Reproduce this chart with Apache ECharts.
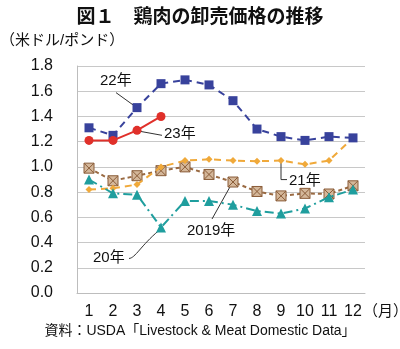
<!DOCTYPE html>
<html>
<head>
<meta charset="utf-8">
<script src="https://cdn.jsdelivr.net/npm/echarts@6/dist/echarts.min.js"></script>
<style>
  html, body { margin: 0; padding: 0; background: #fff; }
  #chart { width: 400px; height: 349px; }
</style>
</head>
<body>
<div id="chart"></div>
<script>
// Monthly wholesale chicken prices (US$/lb), USDA
const months = ['1','2','3','4','5','6','7','8','9','10','11','12'];
const yTicks = { min: 0, max: 1.8, interval: 0.2 };

const y2019 = [0.99, 0.89, 0.93, 0.97, 1.00, 0.94, 0.88, 0.805, 0.77, 0.79, 0.785, 0.85];
const y2020 = [0.90, 0.79, 0.78, 0.52, 0.73, 0.73, 0.70, 0.65, 0.63, 0.67, 0.76, 0.82];
const y2021 = [0.82, 0.83, 0.86, 1.00, 1.05, 1.06, 1.05, 1.045, 1.05, 1.02, 1.05, 1.23];
const y2022 = [1.31, 1.25, 1.47, 1.66, 1.69, 1.65, 1.525, 1.30, 1.24, 1.21, 1.24, 1.23];
const y2023 = [1.21, 1.21, 1.29, 1.40];

const JP = '"Liberation Sans", Arial, "Noto Sans CJK JP", sans-serif';
const boxX = 'path://M0,0 L10,0 L10,10 L0,10 Z M0,0 L10,10 M10,0 L0,10';

const chart = echarts.init(document.getElementById('chart'), null, { renderer: 'canvas' });

const option = {
  animation: false,
  backgroundColor: '#fff',
  textStyle: { fontFamily: JP },
  title: {
    text: '図１　鶏肉の卸売価格の推移',
    left: 'center', top: 3,
    textStyle: { fontFamily: JP, fontSize: 19, fontWeight: 'bold', color: '#111' }
  },
  grid: { left: 77, right: 35, top: 66, bottom: 56 },
  xAxis: {
    type: 'category',
    data: months,
    boundaryGap: true,
    axisLine: { show: true, lineStyle: { color: '#bdbdbd', width: 1 } },
    axisTick: { show: false },
    axisLabel: { color: '#111', fontSize: 16, margin: 11, fontFamily: JP, interval: 0 }
  },
  yAxis: {
    type: 'value',
    min: yTicks.min, max: yTicks.max, interval: yTicks.interval,
    axisLine: { show: true, lineStyle: { color: '#bdbdbd', width: 1 } },
    axisTick: { show: false },
    splitLine: { lineStyle: { color: '#c8c8c8', width: 1 } },
    axisLabel: { color: '#111', fontSize: 16, margin: 24, fontFamily: JP,
      formatter: v => v.toFixed(1) }
  },
  series: [
    {
      name: '2019年', type: 'line', data: y2019, z: 3,
      symbol: boxX, symbolSize: 10,
      lineStyle: { color: '#9a6a42', width: 2, type: [4, 3] },
      itemStyle: { color: '#d4b79a', borderColor: '#8a5c38', borderWidth: 1 }
    },
    {
      name: '21年', type: 'line', data: y2021, z: 4,
      symbol: 'diamond', symbolSize: 7,
      lineStyle: { color: '#f0a93a', width: 2, type: [7, 5] },
      itemStyle: { color: '#f0a93a' }
    },
    {
      name: '20年', type: 'line', data: y2020, z: 5,
      symbol: 'triangle', symbolSize: 10,
      lineStyle: { color: '#1f9e9e', width: 2, type: [9, 4, 2, 4] },
      itemStyle: { color: '#1f9e9e' }
    },
    {
      name: '22年', type: 'line', data: y2022, z: 6,
      symbol: 'rect', symbolSize: 9,
      lineStyle: { color: '#38429c', width: 2, type: [7, 5] },
      itemStyle: { color: '#38429c' }
    },
    {
      name: '23年', type: 'line', data: y2023, z: 7,
      symbol: 'circle', symbolSize: 9,
      lineStyle: { color: '#e0302a', width: 2, type: 'solid' },
      itemStyle: { color: '#e0302a' }
    }
  ]
};
chart.setOption(option);

// Series labels with leader lines, anchored to data points
function pt(mi, v) { return chart.convertToPixel({ gridIndex: 0 }, [mi, v]); }
const lbl = { fontFamily: JP, fontSize: 15, fill: '#111' };
const lead = { stroke: '#333', lineWidth: 1 };

const p22 = pt(2, y2022[2]);
const p23 = pt(2, y2023[2]);
const p21 = pt(8, y2021[8]);
const p19 = pt(6, y2019[6]);
const p20 = pt(3, y2020[3]);
const xAxisY = pt(0, 0)[1];
const xRight = chart.convertToPixel({ gridIndex: 0 }, [11, 0])[0];

chart.setOption({
  graphic: [
    // y-axis unit and month unit
    { type: 'text', left: 0, top: 33, style: { text: '（米ドル/ポンド）', font: '15px ' + JP, fill: '#111' } },
    { type: 'text', x: xRight + 10, y: xAxisY + 11, style: { text: '（月）', font: '15px ' + JP, fill: '#111' } },
    // source
    { type: 'text', left: 'center', top: 324, style: { text: '資料：USDA「Livestock & Meat Domestic Data」', font: '14px ' + JP, fill: '#111' } },

    // 22年
    { type: 'text', x: p22[0] - 37, y: p22[1] - 34, style: Object.assign({ text: '22年', font: '16px ' + JP }, lbl) },
    { type: 'line', shape: { x1: p22[0] - 21, y1: p22[1] - 15, x2: p22[0] - 3, y2: p22[1] - 2 }, style: lead },

    // 23年
    { type: 'text', x: p23[0] + 27, y: p23[1] - 4, style: Object.assign({ text: '23年', font: '16px ' + JP }, lbl) },
    { type: 'line', shape: { x1: p23[0] + 3, y1: p23[1] + 1, x2: p23[0] + 25, y2: p23[1] + 5 }, style: lead },

    // 21年
    { type: 'text', x: p21[0] + 8, y: p21[1] + 13, style: Object.assign({ text: '21年', font: '16px ' + JP }, lbl) },
    { type: 'polyline', shape: { points: [[p21[0], p21[1] + 2], [p21[0], p21[1] + 19], [p21[0] + 6, p21[1] + 19]] }, style: Object.assign({ fill: null }, lead) },

    // 2019年
    { type: 'text', x: p19[0] - 46, y: p19[1] + 41, style: Object.assign({ text: '2019年', font: '16px ' + JP }, lbl) },
    { type: 'line', shape: { x1: p19[0] - 2, y1: p19[1] + 3, x2: p19[0] - 21, y2: p19[1] + 37 }, style: lead },

    // 20年
    { type: 'text', x: p20[0] - 68, y: p20[1] + 23, style: Object.assign({ text: '20年', font: '16px ' + JP }, lbl) },
    { type: 'bezierCurve', shape: { x1: p20[0] - 32, y1: p20[1] + 31, cpx1: p20[0] - 26, cpy1: p20[1] + 31, cpx2: p20[0] - 20, cpy2: p20[1] + 18, x2: p20[0] - 2, y2: p20[1] + 3 }, style: Object.assign({ fill: null }, lead) }
  ]
});
</script>
</body>
</html>
